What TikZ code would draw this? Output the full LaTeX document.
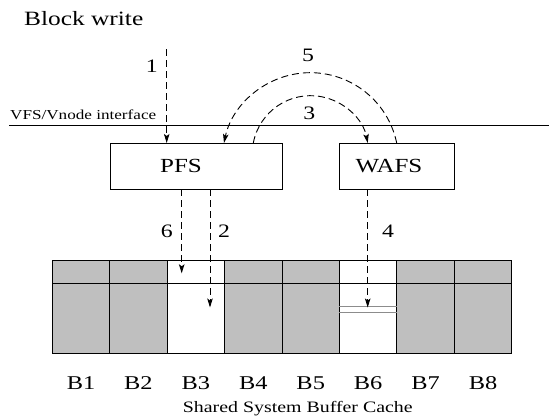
\documentclass[tikz,border=0pt]{standalone}
\usepackage{fontspec}
\setmainfont[FakeStretch=1.25]{Liberation Serif}
\usetikzlibrary{arrows.meta}
\definecolor{cellgray}{RGB}{191,191,191}
\definecolor{dblgray}{RGB}{140,140,140}
\newcommand\fsz[1]{\fontsize{#1}{#1}\selectfont}
\begin{document}
\begin{tikzpicture}[x=1pt,y=1pt,
  fsbox/.style={draw=black, line width=0.9pt, minimum height=46.3pt, inner sep=0pt, outer sep=0pt},
  dasharrow/.style={line width=0.9pt, dash pattern=on 7pt off 4pt,
    -{Stealth[length=9pt,width=5.5pt,inset=2pt]}},
  numlbl/.style={font=\fsz{19}, inner sep=0pt},
  txt/.style={inner sep=0pt},
  grid/.style={line width=0.9pt, black}]
\useasboundingbox (0,0) rectangle (549,418);

% titles
\node[txt, anchor=base west, font=\fsz{20.3}] (title) at (24,392) {Block write};
\node[txt, anchor=base west, font=\fsz{13.7}] (vfs) at (10,298) {VFS/Vnode interface};
\coordinate (ifl) at (9.3,292.7);
\coordinate (ifr) at (549,292.7);
\draw[line width=0.9pt] (ifl) -- (ifr);

% file system boxes
\node[fsbox, minimum width=172.2pt] (pfs) at (196.1,251.85) {};
\node[fsbox, minimum width=114.7pt] (wafs) at (396.95,251.85) {};
\node[txt, anchor=base, font=\fsz{20}] (pfst) at (181,245.3) {PFS};
\node[txt, anchor=base, font=\fsz{20}] (wafst) at (389,245.7) {WAFS};

% buffer cache
\fill[cellgray] (52.3,64.7) rectangle (511.7,158);
\fill[white] (167.15,64.7) rectangle (224.575,158);
\fill[white] (339.425,64.7) rectangle (396.85,158);
\draw[grid] (52.3,64.7) rectangle (511.7,158);
\draw[grid] (52.3,134.7) -- (511.7,134.7);
\foreach \i in {1,...,7} {
  \draw[grid] ({52.3+57.425*\i},64.7) -- ({52.3+57.425*\i},158);
}
\draw[dblgray, line width=1.2pt] (339.425,111.3) -- (396.85,111.3);
\draw[dblgray, line width=1.2pt] (339.425,105.5) -- (396.85,105.5);
\foreach \i in {1,...,8} {
  \node[anchor=base, font=\fsz{19.5}] (b\i) at ({52.3+57.425*(\i-0.5)},28.7) {B\i};
}
\node[txt, anchor=base west, font=\fsz{15.9}] (cap) at (182.7,6) {Shared System Buffer Cache};

% arrows
\coordinate (s1) at (166.7,368.7);
\draw[dasharrow] (s1) -- (s1 |- pfs.north);
\node[numlbl] (n1) at (151.7,351.3) {1};

\coordinate (s5) at (396.7,0);
\draw[dasharrow] (s5 |- wafs.north) arc[start angle=11.7, end angle=168.3, radius=88.2];
\node[numlbl] (n5) at (308,363) {5};

\coordinate (s3) at (253.3,0);
\draw[dasharrow] (s3 |- pfs.north) arc[start angle=169.2, end angle=10.8, radius=58.24];
\node[numlbl] (n3) at (309.3,304.7) {3};

\coordinate (t6) at (181.7,144.7);
\draw[dasharrow] (t6 |- pfs.south) -- (t6);
\node[numlbl] (n6) at (166.7,186.3) {6};

\coordinate (t2) at (210,110.5);
\draw[dasharrow] (t2 |- pfs.south) -- (t2);
\node[numlbl] (n2) at (224,186.3) {2};

\coordinate (t4) at (367.7,110.5);
\draw[dasharrow] (t4 |- wafs.south) -- (t4);
\node[numlbl] (n4) at (388,186.3) {4};
\end{tikzpicture}
\end{document}
